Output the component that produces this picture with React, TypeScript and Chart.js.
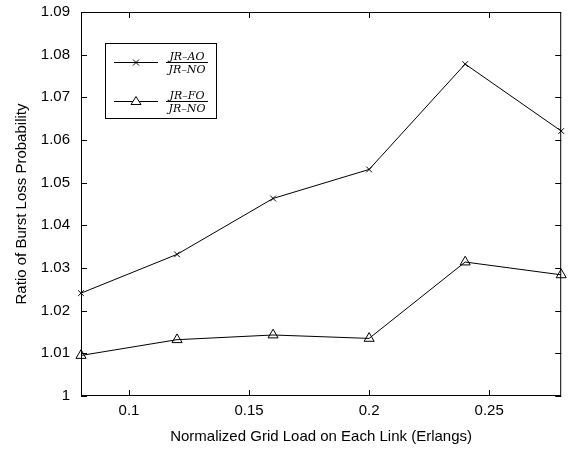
import React, { useEffect, useRef } from "react";
import { Chart, registerables } from "chart.js";

Chart.register(...registerables);

const loads = [0.08, 0.12, 0.16, 0.2, 0.24, 0.28];
const ratioAO = [1.0241, 1.0332, 1.0463, 1.0531, 1.0778, 1.0621];
const ratioFO = [1.0095, 1.0132, 1.0143, 1.0135, 1.0314, 1.0284];
const xTickValues = [0.1, 0.15, 0.2, 0.25];
const yTickValues = [1, 1.01, 1.02, 1.03, 1.04, 1.05, 1.06, 1.07, 1.08, 1.09];
const legendLabels = [
  { num: "JR\u2013AO", den: "JR\u2013NO" },
  { num: "JR\u2013FO", den: "JR\u2013NO" },
];

const FONT = "'Liberation Sans', Arial, sans-serif";

const framePlugin = {
  id: "frame",
  afterDatasetsDraw(chart: any) {
    const { ctx, chartArea } = chart;
    const { left, right, top, bottom } = chartArea;
    ctx.save();
    ctx.strokeStyle = "#000";
    ctx.lineWidth = 1;
    ctx.strokeRect(left + 0.5, top + 0.5, right - left - 1, bottom - top - 1);
    const x = chart.scales.x;
    const y = chart.scales.y;
    const L = 6;
    ctx.beginPath();
    for (const v of yTickValues) {
      const py = Math.round(y.getPixelForValue(v)) + 0.5;
      ctx.moveTo(left, py);
      ctx.lineTo(left + L, py);
      ctx.moveTo(right, py);
      ctx.lineTo(right - L, py);
    }
    for (const v of xTickValues) {
      const px = Math.round(x.getPixelForValue(v)) + 0.5;
      ctx.moveTo(px, bottom);
      ctx.lineTo(px, bottom - L);
      ctx.moveTo(px, top);
      ctx.lineTo(px, top + L);
    }
    ctx.stroke();

    // legend box
    const bx = 105, by = 43, bw = 111, bh = 75;
    ctx.fillStyle = "#fff";
    ctx.fillRect(bx, by, bw, bh);
    ctx.strokeRect(bx + 0.5, by + 0.5, bw, bh);
    const rows = [62, 101];
    legendLabels.forEach((lab, i) => {
      const ry = rows[i] + 0.5;
      ctx.beginPath();
      ctx.moveTo(114, ry);
      ctx.lineTo(158, ry);
      ctx.stroke();
      ctx.beginPath();
      if (i === 0) {
        const s = 3;
        ctx.moveTo(136 - s, ry - s);
        ctx.lineTo(136 + s, ry + s);
        ctx.moveTo(136 + s, ry - s);
        ctx.lineTo(136 - s, ry + s);
      } else {
        ctx.moveTo(136, ry - 5);
        ctx.lineTo(141, ry + 3);
        ctx.lineTo(131, ry + 3);
        ctx.closePath();
        ctx.fillStyle = "#fff";
        ctx.fill();
      }
      ctx.stroke();
      ctx.fillStyle = "#000";
      ctx.font = "italic 11px 'DejaVu Serif', 'Liberation Serif', serif";
      ctx.textAlign = "center";
      ctx.textBaseline = "alphabetic";
      const cx = 187;
      ctx.fillText(lab.num, cx, ry - 3);
      ctx.fillText(lab.den, cx, ry + 10);
      ctx.beginPath();
      ctx.moveTo(166, ry);
      ctx.lineTo(208, ry);
      ctx.stroke();
    });
    ctx.restore();
  },
};

export default function App() {
  const ref = useRef<HTMLCanvasElement>(null);
  useEffect(() => {
    if (!ref.current) return;
    const chart = new Chart(ref.current, {
      type: "line",
      data: {
        datasets: [
          {
            label: "JR-AO / JR-NO",
            data: loads.map((x, i) => ({ x, y: ratioAO[i] })),
            borderColor: "#000",
            borderWidth: 1,
            pointStyle: "crossRot",
            pointRadius: 4,
            pointBorderColor: "#000",
            pointBorderWidth: 1,
            backgroundColor: "transparent",
            tension: 0,
          },
          {
            label: "JR-FO / JR-NO",
            data: loads.map((x, i) => ({ x, y: ratioFO[i] })),
            borderColor: "#000",
            borderWidth: 1,
            pointStyle: "triangle",
            pointRadius: 5.8,
            pointBorderColor: "#000",
            pointBackgroundColor: "transparent",
            pointBorderWidth: 1,
            backgroundColor: "transparent",
            tension: 0,
          },
        ],
      },
      options: {
        animation: false,
        responsive: false,
        clip: false as any,
        layout: { padding: { top: 12, right: 1, left: 0, bottom: 0 } },
        plugins: { legend: { display: false }, tooltip: { enabled: false } },
        scales: {
          x: {
            type: "linear",
            min: 0.08,
            max: 0.28,
            afterBuildTicks: (s: any) => {
              s.ticks = xTickValues.map((v) => ({ value: v }));
            },
            afterFit: (s: any) => {
              s.height = 54;
              s.paddingLeft = 0;
              s.paddingRight = 0;
              s.paddingTop = 0;
              s.paddingBottom = 0;
            },
            grid: { display: false, drawTicks: false },
            border: { display: false },
            ticks: {
              color: "#000",
              font: { family: FONT, size: 15 },
              padding: 6,
              maxRotation: 0,
              callback: (v: any) => String(Number(Number(v).toFixed(2))),
            },
            title: {
              display: true,
              text: "Normalized Grid Load on Each Link (Erlangs)",
              color: "#000",
              font: { family: FONT, size: 15 },
              padding: { top: 4, bottom: 4 },
            },
          },
          y: {
            type: "linear",
            min: 1,
            max: 1.09,
            afterBuildTicks: (s: any) => {
              s.ticks = yTickValues.map((v) => ({ value: v }));
            },
            afterFit: (s: any) => {
              s.width = 81;
              s.paddingLeft = 0;
              s.paddingRight = 0;
              s.paddingTop = 0;
              s.paddingBottom = 0;
            },
            grid: { display: false, drawTicks: false },
            border: { display: false },
            ticks: {
              color: "#000",
              font: { family: FONT, size: 15 },
              padding: 11,
              callback: (v: any) => String(Number(Number(v).toFixed(2))),
            },
            title: {
              display: true,
              text: "Ratio of Burst Loss Probability",
              color: "#000",
              font: { family: FONT, size: 15 },
              padding: { top: 13, bottom: 0 },
            },
          },
        },
      },
      plugins: [framePlugin],
    });
    return () => chart.destroy();
  }, []);
  return (
    <div style={{ position: "fixed", left: 0, top: 0, width: 568, height: 450, background: "#fff" }}>
      <canvas ref={ref} width={568} height={450} style={{ display: "block" }} />
    </div>
  );
}
